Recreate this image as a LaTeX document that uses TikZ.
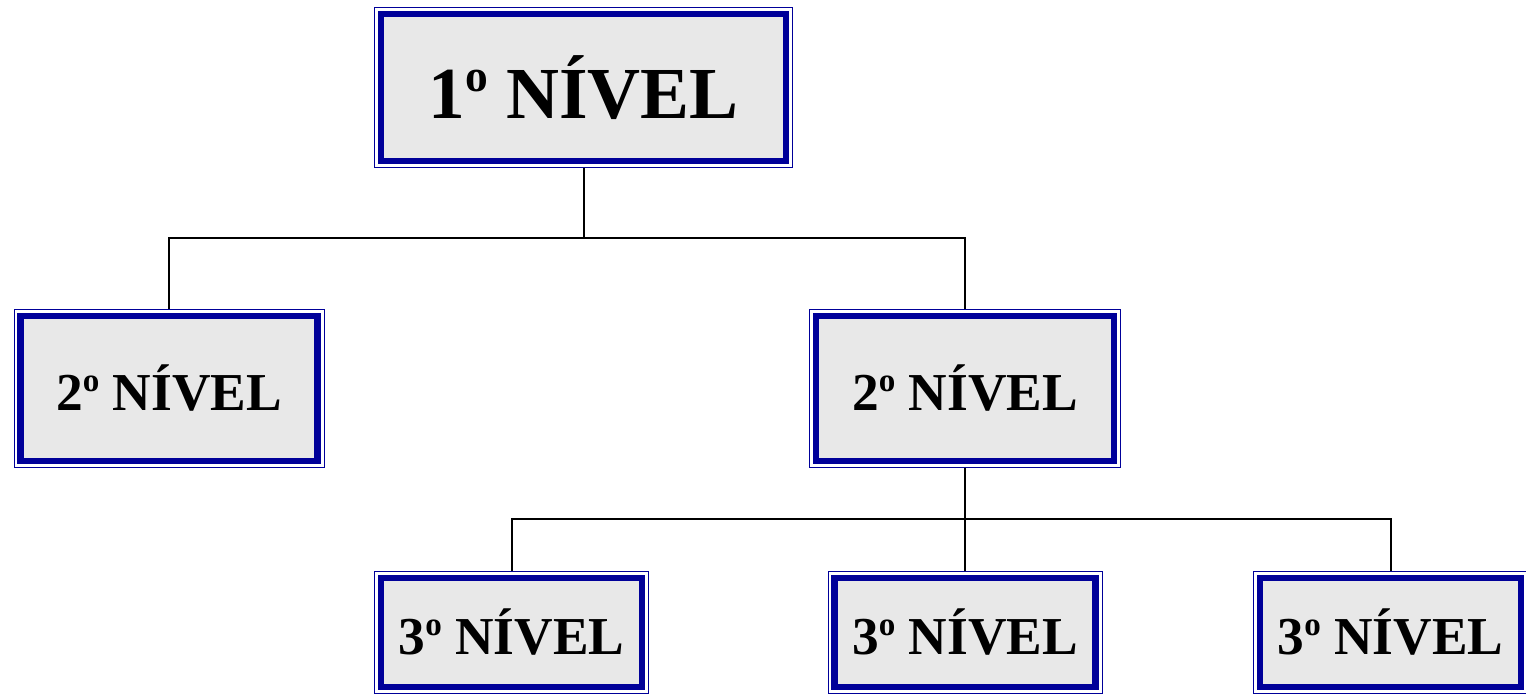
\documentclass[tikz,border=0pt]{standalone}
\usepackage{fontspec}
\setmainfont{Liberation Serif}

\definecolor{nivelblue}{HTML}{000099}
\definecolor{nivelgray}{HTML}{E8E8E8}

% raised ordinal "o"
\newcommand{\ordo}{\raisebox{0.37em}{\scalebox{0.62}{o}}}

\begin{document}
\begin{tikzpicture}[
            x=0.75pt, y=-0.75pt,
            nivel/.style={draw=nivelblue, fill=nivelgray, line width=4.9pt,
                preaction={draw=nivelblue, line width=10.5pt},
                preaction={draw=white, line width=9pt},
                inner sep=0pt, outer sep=5.25pt,
                font=\bfseries\fontsize{40}{48}\selectfont},
            topo/.style={nivel, font=\bfseries\fontsize{55}{66}\selectfont},
            conn/.style={line width=1.5pt},
            ]
            \useasboundingbox (0,0) rectangle (1526,694);

            % 1o nivel
            \node[topo, minimum width=303.75pt, minimum height=110.25pt] (n1) at (583.5,87.5) {1\ordo{} NÍVEL};

            % 2o nivel
            \node[nivel, minimum width=222.75pt, minimum height=108.75pt] (n2a) at (169,388.5) {2\ordo{} NÍVEL};
            \node[nivel, minimum width=223.5pt, minimum height=108.75pt] (n2b) at (965,388.5) {2\ordo{} NÍVEL};

            % 3o nivel
            \node[nivel, minimum width=195.75pt, minimum height=81.75pt] (n3a) at (511.5,632.5) {3\ordo{} NÍVEL};
            \node[nivel, minimum width=195.75pt, minimum height=81.75pt] (n3b) at (965,632.5) {3\ordo{} NÍVEL};
            \node[nivel, minimum width=195.75pt, minimum height=81.75pt] (n3c) at (1390.5,632.5) {3\ordo{} NÍVEL};

            \begin{scope}[conn]
                \draw (n1.south) -- ++(0,70) -| (n2a.north);
                \draw (n1.south) -- ++(0,70) -| (n2b.north);
                \draw (n2b.south) -- (n3b.north);
                \draw (n2b.south) -- ++(0,51) -| (n3a.north);
                \draw (n2b.south) -- ++(0,51) -| (n3c.north);
            \end{scope}
        \end{tikzpicture}
\end{document}
